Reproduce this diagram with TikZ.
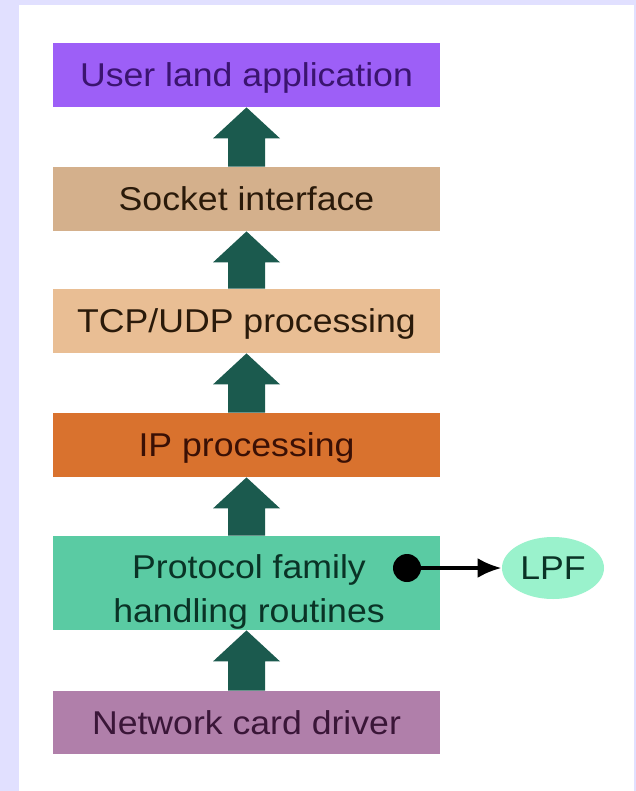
\documentclass[tikz,border=0pt]{standalone}
\usepackage{fontspec}
\setmainfont{Liberation Sans}[FakeStretch=1.08]
\usetikzlibrary{calc,shapes.geometric,arrows.meta}
\definecolor{lav}{HTML}{E1E0FF}
\definecolor{userc}{HTML}{9D5FF7}
\definecolor{sockc}{HTML}{D4B08C}
\definecolor{tcpc}{HTML}{E9BE94}
\definecolor{ipc}{HTML}{D9722E}
\definecolor{protoc}{HTML}{5ACBA3}
\definecolor{netc}{HTML}{B07FAA}
\definecolor{lpfc}{HTML}{9AF2CC}
\definecolor{arrc}{HTML}{1B5A4E}
\definecolor{usert}{HTML}{3B1470}
\definecolor{sockt}{HTML}{2A1A0A}
\definecolor{ipt}{HTML}{3A1005}
\definecolor{protot}{HTML}{0A3326}
\definecolor{nett}{HTML}{3A1638}
\newcommand\blockarrow[2]{%
  \fill[arrc] let \p1=(#2.south), \p2=(#1.north) in
    (\x1,\y1) -- (\x1+16.75pt,\y1-15.5pt) -- (\x1+9.25pt,\y1-15.5pt)
    -- (\x1+9.25pt,\y2) -- (\x1-9.25pt,\y2) -- (\x1-9.25pt,\y1-15.5pt)
    -- (\x1-16.75pt,\y1-15.5pt) -- cycle;}
\begin{document}
\begin{tikzpicture}[x=0.5pt,y=-0.5pt,
  layer/.style={rectangle, inner sep=0pt, minimum width=193.5pt, minimum height=32pt,
    font=\fontsize{16.5}{22}\selectfont, text height=11.8pt, text depth=0pt},
  lbl/.style={inner sep=0pt, font=\fontsize{16.5}{22}\selectfont, align=center}]
\useasboundingbox (0,0) rectangle (636,791);
\fill[lav] (0,0) rectangle (636,791);
\fill[white] (19,5) rectangle (634,791);

\node[layer, fill=userc, text=usert] (user) at (246.5,75) {User land application};
\node[layer, fill=sockc, text=sockt] (sock) at (246.5,199) {Socket interface};
\node[layer, fill=tcpc, text=sockt] (tcp) at (246.5,321) {TCP/UDP processing};
\node[layer, fill=ipc, text=ipt] (ip) at (246.5,445) {IP processing};
\node[layer, fill=protoc, minimum height=47pt] (proto) at (246.5,583) {};
\node[lbl, text=protot, anchor=base] (protolbl) at (249,622) {Protocol family\\handling routines};
\node[layer, fill=netc, text=nett, minimum height=31.5pt] (net) at (246.5,722.5) {Network card driver};

\blockarrow{sock}{user}
\blockarrow{tcp}{sock}
\blockarrow{ip}{tcp}
\blockarrow{proto}{ip}
\blockarrow{net}{proto}

\node[circle, fill=black, inner sep=0pt, minimum size=14pt] (dot) at (407,568) {};
\node[ellipse, fill=lpfc, inner sep=0pt, minimum width=51pt, minimum height=31pt,
  font=\fontsize{16.5}{22}\selectfont, text=protot, text height=11.8pt, text depth=0pt] (lpf) at (553,568) {LPF};
\draw[line width=2pt, -{Latex[length=12pt,width=10pt]}] (dot) -- (lpf.west);
\end{tikzpicture}
\end{document}
